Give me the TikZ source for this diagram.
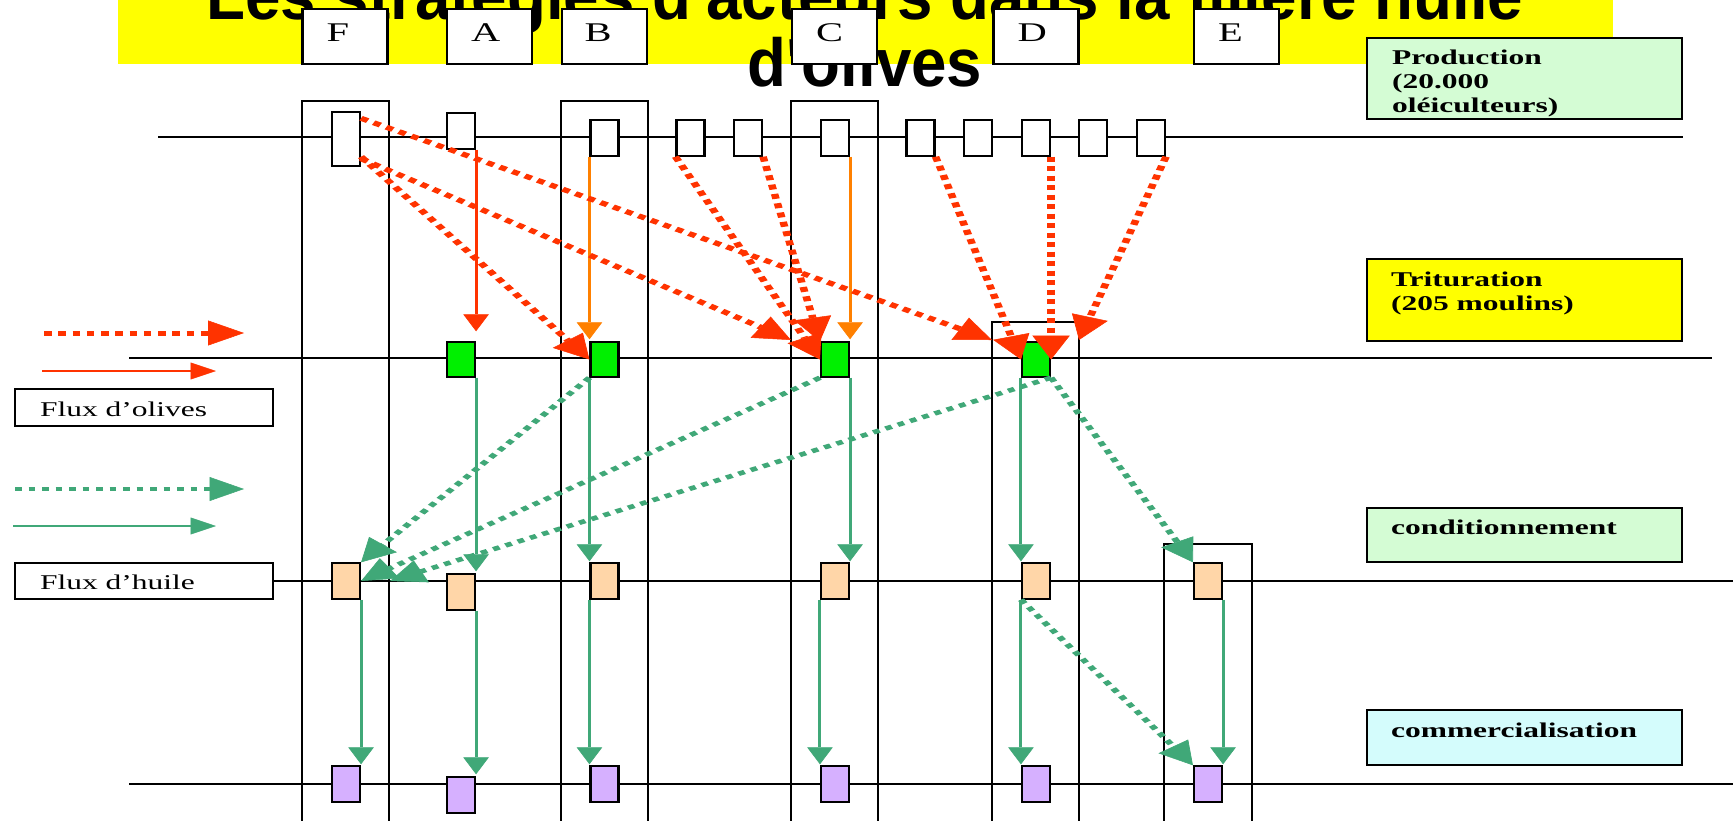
\documentclass[tikz,border=0pt]{standalone}
\usepackage{graphicx}
\usepackage{fontspec}
\setmainfont{Liberation Serif}
\newfontfamily\ttlfont{Liberation Sans}
\usetikzlibrary{arrows.meta}
\definecolor{redf}{RGB}{255,51,0}
\definecolor{orf}{RGB}{255,128,0}
\definecolor{grf}{RGB}{64,168,120}
\definecolor{gboxc}{RGB}{0,240,0}
\definecolor{peach}{RGB}{255,214,168}
\definecolor{lav}{RGB}{214,176,255}
\definecolor{prodfill}{RGB}{212,252,212}
\definecolor{comfill}{RGB}{212,252,252}
\definecolor{ttl}{RGB}{255,255,0}
\newcommand{\boxtext}[5]{\parbox[c][#2][t]{#1}{\leftskip=#3\relax\rule{0pt}{#4}#5}}
\newcommand{\lvlfont}{\fontsize{21pt}{24pt}\selectfont\bfseries}
\newcommand{\letfont}{\fontsize{27pt}{30pt}\selectfont}
\newcommand{\flxfont}{\fontsize{21pt}{24pt}\selectfont}
\tikzset{
  lvl/.style={draw, line width=1.5pt, inner sep=0pt},
  lbox/.style={draw, line width=1.5pt, fill=white, inner sep=0pt},
  pbox/.style={draw, line width=1.4pt, fill=white, minimum width=18.67pt, minimum height=36pt, inner sep=0pt},
  gbx/.style={pbox, fill=gboxc},
  cbx/.style={pbox, fill=peach},
  mbx/.style={pbox, fill=lav},
  lvline/.style={line width=1.6pt},
  colline/.style={line width=1.5pt},
  rdot/.style={draw=redf, line width=5pt, dash pattern=on 5pt off 4.5pt, -{Triangle[length=24pt,width=25pt,line width=0.5pt]}},
  gdot/.style={draw=grf, line width=4.5pt, dash pattern=on 4.5pt off 4.5pt, -{Triangle[length=23pt,width=24pt,line width=0.5pt]}},
  rsol/.style={draw=redf, line width=2pt, -{Triangle[length=17pt,width=17pt,line width=0.5pt]}},
  osol/.style={draw=orf, line width=2pt, -{Triangle[length=17pt,width=17pt,line width=0.5pt]}},
  gsol/.style={draw=grf, line width=2pt, -{Triangle[length=17pt,width=17pt,line width=0.5pt]}}
}
\begin{document}
\begin{tikzpicture}[x=1pt,y=-1pt]
\useasboundingbox (0,0) rectangle (1733,820);
\fill[white] (0,0) rectangle (1733,820);
\clip (0,0) rectangle (1733,820);
\begin{scope}[transform canvas={xscale=1.5}, x=0.666667pt]
% title band
\fill[ttl] (118,0) rectangle (1613,64);
\node[inner sep=0pt, anchor=base] (title) at (865,86) {\scalebox{0.624}[1]{\parbox[b]{1500pt}{\centering\lineskiplimit=-100pt\relax\ttlfont\bfseries\fontsize{68pt}{67pt}\selectfont Les stratégies d'acteurs dans la filière huile\\d'olives}}};
% actor letter boxes
\node[lbox] (hF) at (345,36.5) {\boxtext{56.67pt}{55pt}{16pt}{32pt}{\letfont F}};
\node[lbox] (hA) at (489.5,36.5) {\boxtext{56.67pt}{55pt}{16pt}{32pt}{\letfont A}};
\node[lbox] (hB) at (604.5,36.5) {\boxtext{56.67pt}{55pt}{15pt}{32pt}{\letfont B}};
\node[lbox] (hC) at (834.5,36.5) {\boxtext{56.67pt}{55pt}{16pt}{32pt}{\letfont C}};
\node[lbox] (hD) at (1036,36.5) {\boxtext{56.67pt}{55pt}{16pt}{32pt}{\letfont D}};
\node[lbox] (hE) at (1236.5,36.5) {\boxtext{56.67pt}{55pt}{16pt}{32pt}{\letfont E}};
% level lines
\draw[lvline] (158,137) -- (1683,137);
\draw[lvline] (129,358) -- (1712,358);
\draw[lvline] (129,784) -- (1733,784);
% columns
\draw[colline] (302,822) -- (302,101) -- (389,101) -- (389,822);
\draw[colline] (561,822) -- (561,101) -- (648,101) -- (648,822);
\draw[colline] (791,822) -- (791,101) -- (878,101) -- (878,822);
\draw[colline] (992,822) -- (992,322) -- (1079,322) -- (1079,822);
\draw[colline] (1164,822) -- (1164,544) -- (1252,544) -- (1252,822);
% level labels
\node[lvl, fill=prodfill] (prod) at (1524.5,78.5) {\boxtext{210pt}{81pt}{16.67pt}{26pt}{\lvlfont Production\\(20.000\\oléiculteurs)}};
\node[lvl, fill=ttl] (trit) at (1524.5,300) {\boxtext{210pt}{82pt}{16pt}{27pt}{\lvlfont Trituration\\(205 moulins)}};
\node[lvl, fill=prodfill] (cond) at (1524.5,535) {\boxtext{210pt}{54pt}{16pt}{26pt}{\lvlfont conditionnement}};
\node[lvl, fill=comfill] (comm) at (1524.5,737.5) {\boxtext{210pt}{55pt}{16pt}{27pt}{\lvlfont commercialisation}};
% legend
\node[lbox] (folive) at (144,407.5) {\boxtext{172pt}{37pt}{16.67pt}{27pt}{\flxfont Flux d’olives}};
\node[lbox] (fhuile) at (144,581) {\boxtext{172pt}{36pt}{16.67pt}{26pt}{\flxfont Flux d’huile}};
\draw[lvline] (fhuile.east) -- (1733,581);
\coordinate (lg1s) at (44,333); \coordinate (lg1e) at (244,333);
\coordinate (lg2s) at (42,371); \coordinate (lg2e) at (216,371);
\coordinate (lg3s) at (15,489); \coordinate (lg3e) at (244,489);
\coordinate (lg4s) at (13,526); \coordinate (lg4e) at (216,526);
\draw[rdot] (lg1s) -- (lg1e);
\draw[rsol] (lg2s) -- (lg2e);
\draw[gdot] (lg3s) -- (lg3e);
\draw[gsol] (lg4s) -- (lg4e);
% production boxes
\node[pbox, minimum height=54pt] (pF) at (346,139) {};
\node[pbox] (pA) at (461,131) {};
\node[pbox] (pB) at (604.5,138) {};
\node[pbox] (p1) at (690.5,138) {};
\node[pbox] (p2) at (748,138) {};
\node[pbox] (pC) at (835,138) {};
\node[pbox] (p3) at (920.5,138) {};
\node[pbox] (p4) at (978,138) {};
\node[pbox] (pD) at (1036,138) {};
\node[pbox] (p5) at (1093,138) {};
\node[pbox] (p6) at (1151,138) {};
% trituration boxes
\node[gbx, minimum height=35pt] (tA) at (461,359.5) {};
\node[gbx, minimum height=35pt] (tB) at (604.5,359.5) {};
\node[gbx, minimum height=35pt] (tC) at (835,359.5) {};
\node[gbx, minimum height=35pt] (tD) at (1036,359.5) {};
% conditionnement boxes
\node[cbx] (cF) at (346,581) {};
\node[cbx] (cA) at (461,592) {};
\node[cbx] (cB) at (604.5,581) {};
\node[cbx] (cC) at (835,581) {};
\node[cbx] (cD) at (1036,581) {};
\node[cbx] (cE) at (1208,581) {};
% commercialisation boxes
\node[mbx] (mF) at (346,784) {};
\node[mbx] (mA) at (461,795) {};
\node[mbx] (mB) at (604.5,784) {};
\node[mbx] (mC) at (835,784) {};
\node[mbx] (mD) at (1036,784) {};
\node[mbx] (mE) at (1208,784) {};
% free tips
\coordinate (tipD1) at (992,340);
\coordinate (tipC1) at (791,340);
\coordinate (tipD2) at (1079,340);
\coordinate (tipF) at (390,581);
% solid arrows
\draw[rsol] (pA.south east) -- ([yshift=10pt]tA.north east);
\draw[osol] (pB.south west) -- ([yshift=2pt]tB.north west);
\draw[osol] (pC.south east) -- ([yshift=2pt]tC.north east);
\draw[gsol] (tA.south east) -- ([yshift=2pt]cA.north east);
\draw[gsol] (tB.south west) -- ([yshift=1pt]cB.north west);
\draw[gsol] (tC.south east) -- ([yshift=1pt]cC.north east);
\draw[gsol] (tD.south west) -- ([yshift=1pt]cD.north west);
\draw[gsol] (cF.south east) -- ([yshift=1pt]mF.north east);
\draw[gsol] (cA.south east) -- ([yshift=2pt]mA.north east);
\draw[gsol] (cB.south west) -- ([yshift=1pt]mB.north west);
\draw[gsol] (cC.south west) -- ([yshift=1pt]mC.north west);
\draw[gsol] (cD.south west) -- ([yshift=1pt]mD.north west);
\draw[gsol] (cE.south east) -- ([yshift=1pt]mE.north east);
% dotted olive flows
\draw[rdot] ([yshift=-7pt]pF.north east) -- (tipD1);
\draw[rdot] ([yshift=10pt]pF.south east) -- (tB.west);
\draw[rdot] ([yshift=8pt]pF.south east) -- (tipC1);
\draw[rdot] (p1.south west) -- (tC.west);
\draw[rdot] (p2.south east) -- (tC.north west);
\draw[rdot] (p3.south east) -- (tD.west);
\draw[rdot] (pD.south east) -- (tD.east);
\draw[rdot] (p6.south east) -- (tipD2);
% dotted oil flows
\draw[gdot] (tB.south west) -- (cF.north east);
\draw[gdot] (tC.south west) -- (cF.east);
\draw[gdot] (tD.south east) -- (tipF);
\draw[gdot] (tD.south east) -- (cE.north west);
\draw[gdot] (cD.south west) -- (mE.north west);
\end{scope}
\end{tikzpicture}
\end{document}
